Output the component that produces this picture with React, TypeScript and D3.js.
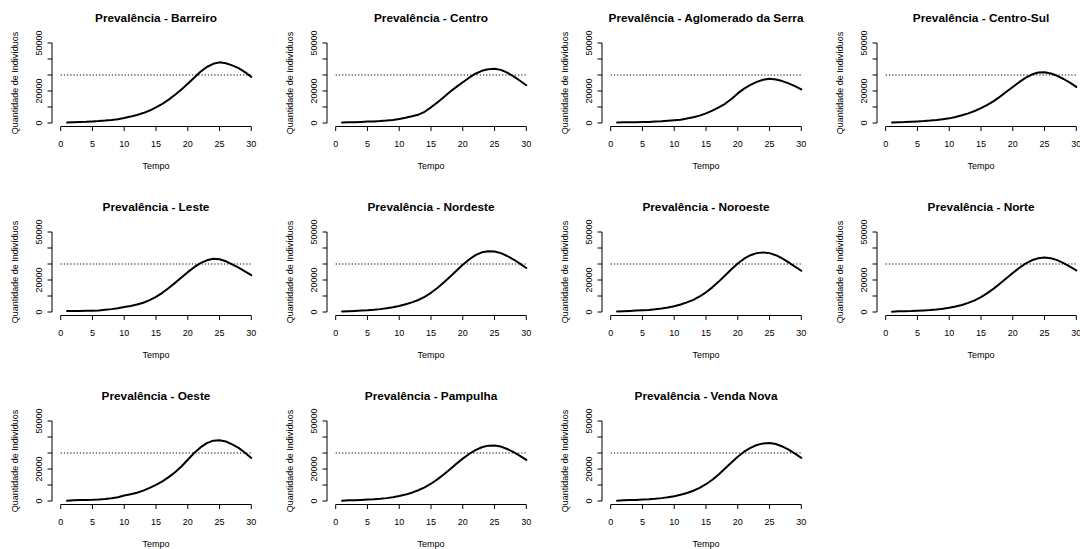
import React from 'react';
import * as d3 from 'd3';

const tempo = d3.range(1, 31);

const regioes = [
  'Barreiro', 'Centro', 'Aglomerado da Serra', 'Centro-Sul',
  'Leste', 'Nordeste', 'Noroeste', 'Norte',
  'Oeste', 'Pampulha', 'Venda Nova',
];

const barreiro = [300, 500, 700, 800, 1000, 1200, 1500, 1900, 2400, 3100, 4000, 5000, 6200, 7800, 9800, 12000, 14600, 17700, 21000, 24500, 28300, 32000, 35000, 37000, 37900, 37300, 36000, 34300, 31800, 28800];
const centro = [300, 400, 500, 700, 900, 1000, 1200, 1500, 1900, 2500, 3300, 4200, 5200, 7000, 9800, 12800, 16100, 19500, 22600, 25500, 28300, 30800, 32600, 33600, 33900, 33200, 31500, 29100, 26400, 23600];
const aglomerado = [300, 400, 500, 500, 600, 700, 900, 1100, 1400, 1700, 2000, 2800, 3600, 4600, 6000, 7700, 9700, 12000, 15000, 18500, 21500, 23800, 25700, 27000, 27600, 27200, 26200, 24800, 23000, 21000];
const centroSul = [300, 500, 600, 800, 1000, 1200, 1500, 1900, 2400, 2900, 3700, 4800, 6000, 7500, 9300, 11300, 13700, 16500, 19500, 22500, 25500, 28200, 30300, 31600, 31700, 30900, 29500, 27500, 25200, 22600];
const leste = [600, 700, 700, 800, 800, 1000, 1400, 1800, 2400, 3100, 3800, 4700, 5800, 7400, 9400, 12000, 15000, 18200, 21500, 24900, 28000, 30500, 32300, 33300, 33000, 31700, 29800, 27700, 25400, 23000];
const nordeste = [300, 500, 700, 900, 1100, 1400, 1800, 2300, 3000, 3800, 4800, 6000, 7500, 9500, 12000, 15000, 18400, 22000, 25800, 29500, 32800, 35500, 37300, 38000, 37800, 36800, 35000, 32800, 30200, 27500];
const noroeste = [300, 500, 700, 900, 1100, 1300, 1700, 2200, 2800, 3600, 4700, 6000, 7600, 9700, 12300, 15400, 19000, 22800, 26700, 30300, 33300, 35500, 36800, 37200, 36800, 35500, 33500, 31000, 28400, 25800];
const norte = [200, 400, 500, 600, 800, 1000, 1200, 1500, 2000, 2600, 3400, 4400, 5700, 7300, 9300, 11800, 14600, 17800, 21100, 24400, 27500, 30200, 32300, 33600, 34000, 33600, 32400, 30500, 28300, 26000];
const oeste = [200, 400, 600, 700, 800, 1000, 1300, 1700, 2400, 3400, 4200, 5200, 6500, 8200, 10100, 12300, 14900, 18000, 21600, 25800, 30000, 33500, 36200, 37700, 38000, 37200, 35400, 33200, 30200, 26900];
const pampulha = [200, 400, 500, 700, 900, 1100, 1400, 1800, 2400, 3100, 4000, 5200, 6700, 8500, 10800, 13500, 16600, 19900, 23300, 26500, 29400, 31800, 33600, 34600, 34700, 34000, 32500, 30500, 28200, 25700];
const vendaNova = [200, 400, 600, 700, 900, 1100, 1400, 1800, 2300, 3000, 3900, 5000, 6400, 8200, 10500, 13300, 16600, 20300, 24100, 27700, 30800, 33200, 35000, 36000, 36200, 35600, 34100, 32100, 29600, 27000];

const series = [barreiro, centro, aglomerado, centroSul, leste, nordeste, noroeste, norte, oeste, pampulha, vendaNova];

const limiar = 30000;
const xTicks = [0, 5, 10, 15, 20, 25, 30];
const yTicks = [0, 10000, 20000, 30000, 40000, 50000];
const yLabels = [0, 20000, 50000];

const W = 1080;
const H = 549;
const colW = 275;
const rowH = 189;
const font = '"Liberation Sans", Arial, sans-serif';

const x = d3.scaleLinear().domain([0, 30]).range([60.7, 251.3]);
const y = d3.scaleLinear().domain([0, 50000]).range([123, 43]);
const axisX = 52;
const axisY = 126.5;
const centreX = 156;

const Painel = ({ nome, valores, col, row }: { nome: string; valores: number[]; col: number; row: number }) => {
  const line = d3.line<number>()
    .x((d, i) => x(tempo[i]))
    .y(d => y(d));

  return (
    <g transform={`translate(${col * colW},${row * rowH})`}>
      <text x={centreX} y={22} textAnchor="middle" fontSize={11.8} fontWeight="bold" fontFamily={font}>
        {`Prevalência - ${nome}`}
      </text>

      {/* eixo y */}
      <line x1={axisX} x2={axisX} y1={y(0)} y2={y(50000)} stroke="#000" />
      {yTicks.map(t => (
        <line key={t} x1={axisX - 4.5} x2={axisX} y1={y(t)} y2={y(t)} stroke="#000" />
      ))}
      {yLabels.map(t => (
        <text key={t} transform={`translate(41.5,${y(t)}) rotate(-90)`} textAnchor="middle" fontSize={9} fontFamily={font}>
          {t}
        </text>
      ))}
      <text transform={`translate(18,${(y(0) + y(50000)) / 2}) rotate(-90)`} textAnchor="middle" fontSize={9} fontFamily={font}>
        Quantidade de Indivíduos
      </text>

      {/* eixo x */}
      <line x1={x(0)} x2={x(30)} y1={axisY} y2={axisY} stroke="#000" />
      {xTicks.map(t => (
        <g key={t}>
          <line x1={x(t)} x2={x(t)} y1={axisY} y2={axisY + 4.5} stroke="#000" />
          <text x={x(t)} y={146.5} textAnchor="middle" fontSize={9} fontFamily={font}>{t}</text>
        </g>
      ))}
      <text x={centreX} y={169} textAnchor="middle" fontSize={9} fontFamily={font}>Tempo</text>

      <line x1={x(0)} x2={x(30)} y1={y(limiar)} y2={y(limiar)} stroke="#000" strokeWidth={1.1} strokeDasharray="1.2,2" />
      <path d={line(valores) ?? ''} fill="none" stroke="#000" strokeWidth={2} strokeLinejoin="round" strokeLinecap="round" />
    </g>
  );
};

export default function App() {
  return (
    <svg width={W} height={H} style={{ position: 'absolute', left: 0, top: 0, background: '#fff' }}>
      <rect width={W} height={H} fill="#fff" />
      {regioes.map((nome, i) => (
        <Painel key={nome} nome={nome} valores={series[i]} col={i % 4} row={Math.floor(i / 4)} />
      ))}
    </svg>
  );
}
